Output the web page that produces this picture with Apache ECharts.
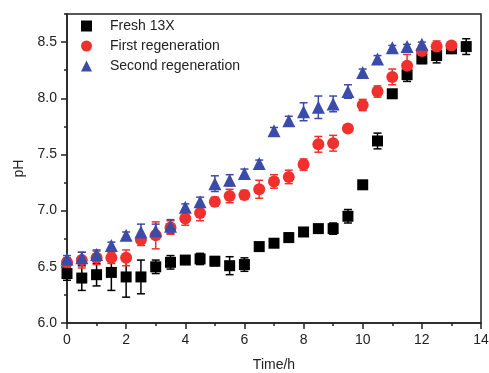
<!DOCTYPE html>
<html>
<head>
<meta charset="utf-8">
<script src="https://cdn.jsdelivr.net/npm/echarts@6/dist/echarts.min.js"></script>
<style>html,body{margin:0;padding:0;background:#fff}#c{width:489px;height:373px}</style>
</head>
<body>
<div id="c"></div>
<script>
// Time (h)
var freshTime = [0,0.5,1,1.5,2,2.5,3,3.5,4,4.5,5,5.5,6,6.5,7,7.5,8,8.5,9,9.5,10,10.5,11,11.5,12,12.5,13,13.5];
var freshPH   = [6.44,6.40,6.43,6.45,6.41,6.41,6.50,6.54,6.56,6.57,6.55,6.51,6.52,6.68,6.71,6.76,6.81,6.84,6.84,6.95,7.23,7.62,8.04,8.21,8.35,8.38,8.44,8.46];
var freshErr  = [0.06,0.11,0.10,0.16,0.18,0.15,0.06,0.06,0.03,0.05,0.04,0.08,0.06,0.02,0.02,0.04,0.03,0.03,0.05,0.06,0.02,0.07,0.02,0.06,0.04,0.065,0.03,0.07];

var firstTime = [0,0.5,1,1.5,2,2.5,3,3.5,4,4.5,5,5.5,6,6.5,7,7.5,8,8.5,9,9.5,10,10.5,11,11.5,12,12.5,13];
var firstPH   = [6.54,6.56,6.58,6.58,6.58,6.74,6.78,6.85,6.93,6.98,7.08,7.13,7.14,7.19,7.26,7.30,7.41,7.59,7.60,7.73,7.94,8.06,8.19,8.29,8.42,8.46,8.47];
var firstErr  = [0.04,0.07,0.06,0.05,0.07,0.05,0.12,0.06,0.06,0.07,0.04,0.06,0.04,0.08,0.06,0.06,0.05,0.07,0.07,0.03,0.05,0.05,0.07,0.10,0.05,0.05,0.03];

var secondTime = [0,0.5,1,1.5,2,2.5,3,3.5,4,4.5,5,5.5,6,6.5,7,7.5,8,8.5,9,9.5,10,10.5,11,11.5,12];
var secondPH   = [6.57,6.58,6.61,6.69,6.78,6.81,6.82,6.86,7.03,7.08,7.24,7.27,7.33,7.42,7.71,7.80,7.88,7.92,7.95,8.06,8.23,8.35,8.45,8.46,8.48];
var secondErr  = [0.03,0.05,0.04,0.03,0.03,0.07,0.06,0.06,0.03,0.04,0.07,0.05,0.04,0.03,0.03,0.04,0.08,0.10,0.07,0.06,0.03,0.03,0.02,0.02,0.02];

// Tick labels
var yTickLabels = [6.0,6.5,7.0,7.5,8.0,8.5];
var xTickLabels = [0,2,4,6,8,10,12,14];

var names = ['Fresh 13X','First regeneration','Second regeneration'];
var colors = ['#000000','#f0302c','#3b4ba8'];
var symbols = ['rect','circle','triangle'];
var sizes = [11,12,13];

function pts(t, v){ return t.map(function(x,i){return [x, v[i]];}); }
function errData(t, v, e){ return t.map(function(x,i){return [x, v[i]-e[i], v[i]+e[i]];}); }

function errSeries(t, v, e, color){
  return {
    type:'custom', silent:true, z:1,
    data: errData(t,v,e),
    renderItem: function(params, api){
      var lo = api.coord([api.value(0), api.value(1)]);
      var hi = api.coord([api.value(0), api.value(2)]);
      var w = 4;
      var st = {stroke: color, lineWidth: 1.5};
      return {type:'group', children:[
        {type:'line', shape:{x1:lo[0],y1:lo[1],x2:hi[0],y2:hi[1]}, style:st},
        {type:'line', shape:{x1:lo[0]-w,y1:lo[1],x2:lo[0]+w,y2:lo[1]}, style:st},
        {type:'line', shape:{x1:hi[0]-w,y1:hi[1],x2:hi[0]+w,y2:hi[1]}, style:st}
      ]};
    }
  };
}

var series = [
  errSeries(freshTime, freshPH, freshErr, colors[0]),
  errSeries(firstTime, firstPH, firstErr, colors[1]),
  errSeries(secondTime, secondPH, secondErr, colors[2])
];
var allT = [freshTime, firstTime, secondTime];
var allV = [freshPH, firstPH, secondPH];
for (var k=0;k<3;k++){
  series.push({type:'scatter', name:names[k], data:pts(allT[k],allV[k]), symbol:symbols[k], symbolSize:sizes[k],
    itemStyle:{color:colors[k], opacity:1}, z:2});
}

var font = 'Liberation Sans, Arial, sans-serif';
var txt = '#222';
var chart = echarts.init(document.getElementById('c'), null, {renderer:'canvas'});
chart.setOption({
  animation:false,
  backgroundColor:'#fff',
  grid:{left:67, right:8, top:14, bottom:50, show:true, borderColor:'#222', borderWidth:1.5, backgroundColor:'transparent',
        containLabel:false, outerBoundsMode:'none'},
  legend:{
    show:true, orient:'vertical', left:76, top:14, itemWidth:11, itemHeight:11, itemGap:6,
    data: names.map(function(n,i){return {name:n, icon:symbols[i], itemStyle:{color:colors[i]}};}),
    textStyle:{fontFamily:font, fontSize:14, color:txt, padding:[0,0,0,13]}
  },
  xAxis:{
    type:'value', min:0, max:14, interval:2,
    name:'Time/h', nameLocation:'middle', nameGap:35,
    nameTextStyle:{fontFamily:font, fontSize:14, color:txt},
    axisLine:{lineStyle:{color:'#222', width:1.5}},
    axisTick:{show:true, inside:false, length:6, lineStyle:{color:'#222', width:1.5}},
    minorTick:{show:true, splitNumber:2, length:3, lineStyle:{color:'#222', width:1.5}},
    axisLabel:{fontFamily:font, fontSize:14, color:txt, margin:10, customValues:xTickLabels},
    splitLine:{show:false}, minorSplitLine:{show:false}
  },
  yAxis:[{
    type:'value', min:6, max:8.75, interval:0.25,
    name:'pH', nameLocation:'middle', nameGap:41, nameRotate:90,
    nameTextStyle:{fontFamily:font, fontSize:14, color:txt},
    axisLine:{lineStyle:{color:'#222', width:1.5}},
    axisTick:{show:true, inside:false, length:3, lineStyle:{color:'#222', width:1.5}},
    axisLabel:{show:false},
    splitLine:{show:false}
  },{
    type:'value', min:6, max:8.75, position:'left', offset:0,
    axisLine:{show:false},
    axisTick:{show:true, inside:false, length:6, customValues:yTickLabels, lineStyle:{color:'#222', width:1.5}},
    axisLabel:{fontFamily:font, fontSize:14, color:txt, margin:10, customValues:yTickLabels,
      formatter:function(v){ return Number(v).toFixed(1); }},
    splitLine:{show:false}
  }],
  series: series
});
</script>
</body>
</html>
